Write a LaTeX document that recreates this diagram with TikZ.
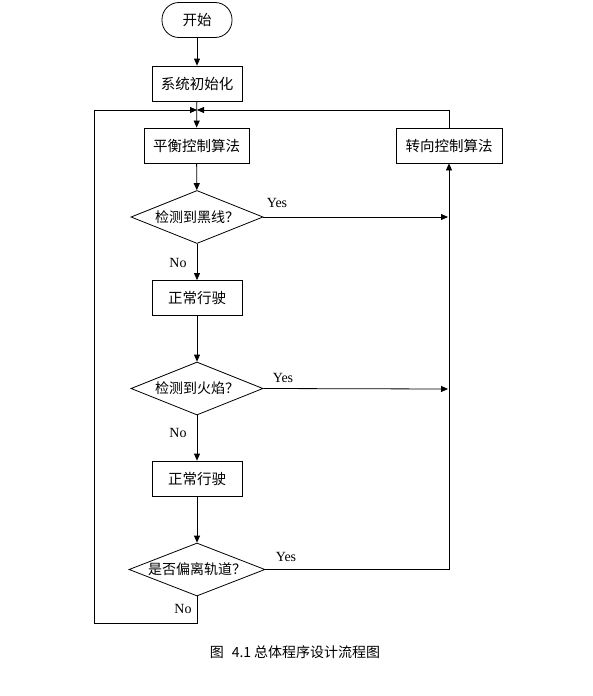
\documentclass[tikz,border=0pt]{standalone}
\usepackage{fontspec}
\setmainfont{Liberation Serif}
\newfontfamily\cjk{Noto Sans CJK SC}
\usepackage{tikz}
\usetikzlibrary{positioning}
\usetikzlibrary{shapes.geometric}
\usetikzlibrary{arrows.meta}

\begin{document}
\begin{tikzpicture}[x=1pt,y=-1pt,
	boxnode/.style={rectangle, draw=black, line width=0.8pt, minimum height=35pt, inner sep=0pt, font=\cjk\fontsize{14.5}{16}\selectfont},
	startnode/.style={rectangle, rounded corners=17pt, draw=black, line width=0.8pt, minimum width=70pt, minimum height=35pt, inner sep=0pt, font=\cjk\fontsize{14.5}{16}\selectfont},
	decnode/.style={diamond, aspect=2.5, draw=black, line width=0.8pt, inner sep=0pt, minimum width=132pt, minimum height=53pt, font=\cjk\fontsize{14}{16}\selectfont},
	flow/.style={line width=0.8pt, -{Triangle[length=7pt,width=6pt]}},
	yesno/.style={font=\fontsize{14}{16}\selectfont},
	]
	\useasboundingbox (0,0) rectangle (593,696);
	%Nodes
	\node[startnode]                       (start) 	at	(197,20) 	{开始};
	\node[boxnode, minimum width=90pt]     (init)  	at	(197,83.5) 	{系统初始化};
	\node[boxnode, minimum width=105pt]    (bal)   	at	(196.5,145.5) 	{平衡控制算法};
	\node[boxnode, minimum width=106pt]    (turn)  	at	(449,145.5) 	{转向控制算法};
	\node[decnode]                         (dec1)  	at	(197,217) 	{检测到黑线？};
	\node[boxnode, minimum width=90pt]     (run1)  	at	(197,298) 	{正常行驶};
	\node[decnode]                         (dec2)  	at	(197,388.5) 	{检测到火焰？};
	\node[boxnode, minimum width=90pt]     (run2)  	at	(197,478.5) 	{正常行驶};
	\node[decnode, minimum width=136pt]    (dec3)  	at	(197,569.5) 	{是否偏离轨道？};
	\node[font=\cjk\fontsize{14}{16}\selectfont] (caption) at (295,652) {图\hspace{8pt}4.1\hspace{3pt}总体程序设计流程图};

	\coordinate (merge) 	at (197,110);
	\coordinate (hit1)  	at (448,217);
	\coordinate (hit2)  	at (448,389);
	\coordinate (loopbot) 	at (94,623);
	\coordinate (looptop) 	at (94,110);

	%Labels
	\node[yesno] (yes1) at (277,203) {Yes};
	\node[yesno] (no1)  at (178,263) {No};
	\node[yesno] (yes2) at (283,378) {Yes};
	\node[yesno] (no2)  at (178,433) {No};
	\node[yesno] (yes3) at (286,557) {Yes};
	\node[yesno] (no3)  at (183,609) {No};

	%Connectors
	\draw[flow] (start) -- (init);
	\draw[flow] (init) -- (bal);
	\draw[flow] (bal) -- (dec1);
	\draw[flow] (dec1.east) -- (hit1);
	\draw[flow] (dec1) -- (run1);
	\draw[flow] (run1) -- (dec2);
	\draw[flow] (dec2.east) -- (hit2);
	\draw[flow] (dec2) -- (run2);
	\draw[flow] (run2) -- (dec3);
	\draw[flow] (dec3.east) -| (turn);
	\draw[flow] (dec3.south) |- (loopbot) -- (looptop) -- (merge);
	\draw[flow] (turn) |- (merge);
\end{tikzpicture}
\end{document}
